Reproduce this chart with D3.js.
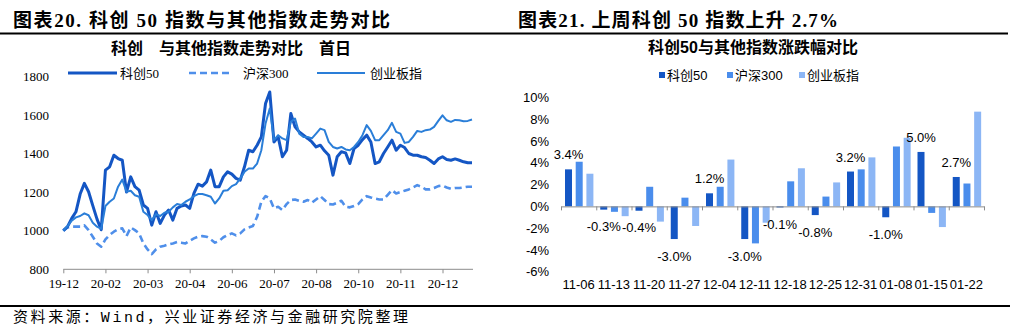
<!DOCTYPE html>
<html><head><meta charset="utf-8">
<script src="https://cdn.jsdelivr.net/npm/d3@7"></script>
<style>body{margin:0;background:#fff}svg{display:block}</style>
</head><body>
<svg id="c" width="1010" height="334"></svg>
<script>
// ---------- Left chart data ----------
const lineTickLabels = ["19-12","20-02","20-03","20-04","20-06","20-07","20-08","20-10","20-11","20-12"];
const lineYTicks = [800,1000,1200,1400,1600,1800];
const kc50 = [1000,1021,1064,1098,1190,1245,1202,1130,1060,1005,
1314,1331,1391,1374,1365,1200,1279,1228,1210,1133,
1116,1029,1098,1038,1081,1107,1055,1116,1128,1133,
1116,1193,1241,1231,1253,1314,1228,1228,1279,1305,
1293,1271,1262,1331,1417,1409,1443,1486,1659,1719,
1460,1486,1383,1417,1607,1538,1512,1495,1478,1460,
1434,1443,1414,1391,1288,1383,1409,1403,1348,1426,
1443,1472,1495,1460,1348,1357,1400,1434,1469,1417,
1443,1431,1400,1391,1391,1383,1379,1365,1348,1372,
1383,1369,1365,1372,1365,1357,1352,1352];
const hs300 = [1000,1017,1021,1021,1021,1028,1003,969,934,917,
955,978,995,1007,1012,972,1017,1003,986,934,
903,879,903,917,922,929,934,941,938,934,
948,960,969,972,969,955,938,947,966,978,
986,976,986,1007,1017,1024,1072,1150,1179,1167,
1116,1124,1107,1138,1159,1162,1155,1150,1159,1145,
1162,1179,1159,1138,1136,1145,1155,1124,1121,1128,
1138,1162,1179,1172,1166,1162,1162,1186,1210,1193,
1200,1207,1214,1224,1236,1228,1214,1214,1221,1231,
1234,1224,1217,1221,1221,1224,1228,1228];
const cyb = [1000,1024,1052,1069,1076,1090,1080,1041,1021,1010,
1128,1150,1167,1228,1265,1202,1207,1184,1176,1098,
1081,1055,1086,1076,1093,1098,1121,1138,1133,1150,
1162,1179,1190,1190,1184,1176,1141,1167,1207,1210,
1231,1241,1271,1305,1322,1322,1348,1417,1555,1633,
1469,1495,1478,1469,1564,1581,1503,1486,1486,1478,
1503,1529,1521,1460,1434,1426,1434,1421,1417,1434,
1460,1495,1547,1517,1469,1469,1495,1521,1559,1512,
1503,1455,1460,1486,1517,1512,1521,1524,1538,1569,
1598,1572,1564,1574,1572,1567,1569,1576];
const lineNames = ["科创50","沪深300","创业板指"];

// ---------- Right chart data ----------
const weeks = ["11-06","11-13","11-20","11-27","12-04","12-11","12-18","12-25","12-31","01-08","01-15","01-22"];
const barKC = [3.4,-0.3,-0.4,-3.0,1.2,-3.0,-0.1,-0.8,3.2,-1.0,5.0,2.7];
const barHS = [4.1,-0.5,1.8,0.8,1.8,-3.4,2.3,0.9,3.4,5.5,-0.6,2.1];
const barCY = [3.0,-0.9,-1.4,-1.8,4.3,-1.5,3.5,2.2,4.5,6.3,-1.9,8.7];
const pctTicks = [-6,-4,-2,0,2,4,6,8,10];
const barNames = ["科创50","沪深300","创业板指"];

const svg = d3.select("#c");
const CJK_SERIF = "'Liberation Serif','Noto Sans CJK SC',serif";
const CJK_SANS = "'Liberation Sans','Noto Sans CJK SC',sans-serif";

// headers and rules
svg.append("text").attr("x",13).attr("y",27).attr("font-family",CJK_SERIF).attr("font-weight","bold")
  .attr("font-size",19).attr("textLength",377).attr("lengthAdjust","spacing")
  .text("图表20. 科创 50 指数与其他指数走势对比");
svg.append("text").attr("x",518).attr("y",27).attr("font-family",CJK_SERIF).attr("font-weight","bold")
  .attr("font-size",19).attr("textLength",320).attr("lengthAdjust","spacing")
  .text("图表21. 上周科创 50 指数上升 2.7%");
svg.append("line").attr("x1",0).attr("x2",1008).attr("y1",33.5).attr("y2",33.5).attr("stroke","#000").attr("stroke-width",2);
svg.append("line").attr("x1",0).attr("x2",1010).attr("y1",306).attr("y2",306).attr("stroke","#000").attr("stroke-width",2);
svg.append("text").attr("x",13).attr("y",322).attr("font-family","'Liberation Mono','Noto Sans CJK SC',monospace")
  .attr("font-size",15).attr("textLength",395).attr("lengthAdjust","spacing")
  .text("资料来源：Wind，兴业证券经济与金融研究院整理");

// ---------- Left line chart ----------
const colK = "#1456c4", colH = "#4f8fea", colC = "#2a7ed8";
const xL = d3.scaleLinear().domain([0, kc50.length-1]).range([63.3, 472]);
const yL = d3.scaleLinear().domain([800,1800]).range([269.3, 76.3]);

svg.append("text").attr("x",231).attr("y",54).attr("text-anchor","middle").attr("font-family",CJK_SANS)
  .attr("font-weight","bold").attr("font-size",16).text("科创　与其他指数走势对比　首日");

const gxL = svg.append("g").attr("transform","translate(0,269.3)")
  .call(d3.axisBottom(xL).tickValues(d3.range(0, lineTickLabels.length*10, 10))
    .tickFormat((d,i)=>lineTickLabels[i]).tickSize(4).tickSizeOuter(0).tickPadding(5));
gxL.select(".domain").attr("stroke","#8c8c8c").attr("d","M63.3,0H473");
gxL.selectAll(".tick line").attr("stroke","#8c8c8c");
gxL.selectAll("text").attr("font-family","'Liberation Serif',serif").attr("font-size",13).attr("fill","#000");

const gyL = svg.append("g").attr("transform","translate(52,0)")
  .call(d3.axisLeft(yL).tickValues(lineYTicks).tickFormat(d3.format("d")).tickSize(0).tickPadding(3));
gyL.select(".domain").remove();
gyL.selectAll("text").attr("font-family","'Liberation Serif',serif").attr("font-size",13).attr("fill","#000");

const lineGen = d3.line().x((d,i)=>xL(i)).y(d=>yL(d)).curve(d3.curveLinear);
svg.append("path").datum(hs300).attr("d",lineGen).attr("fill","none").attr("stroke",colH)
  .attr("stroke-width",2.6).attr("stroke-dasharray","7,4").attr("stroke-linejoin","round");
svg.append("path").datum(kc50).attr("d",lineGen).attr("fill","none").attr("stroke",colK)
  .attr("stroke-width",3).attr("stroke-linejoin","round");
svg.append("path").datum(cyb).attr("d",lineGen).attr("fill","none").attr("stroke",colC)
  .attr("stroke-width",2).attr("stroke-linejoin","round");

// legend
const legL = [{x1:68,x2:117,tx:120,c:colK,w:3,dash:null},
              {x1:189,x2:233,tx:243,c:colH,w:2.6,dash:"7,4"},
              {x1:317,x2:365,tx:370,c:colC,w:2,dash:null}];
legL.forEach((l,i)=>{
  svg.append("line").attr("x1",l.x1).attr("x2",l.x2).attr("y1",73).attr("y2",73)
    .attr("stroke",l.c).attr("stroke-width",l.w).attr("stroke-dasharray",l.dash);
  svg.append("text").attr("x",l.tx).attr("y",78).attr("font-family",CJK_SERIF).attr("font-size",13)
    .text(lineNames[i]);
});

// ---------- Right bar chart ----------
const barCols = ["#1456c4","#4a8dec","#8cb6f5"];
const x0 = d3.scaleBand().domain(weeks).range([561,984]).padding(0);
const x1 = d3.scaleBand().domain([0,1,2]).range([4,32.4]).paddingInner(0.346).paddingOuter(0);
const yB = d3.scaleLinear().domain([-6,10]).range([271.7, 97.5]);

svg.append("text").attr("x",753).attr("y",53).attr("text-anchor","middle").attr("font-family",CJK_SANS)
  .attr("font-weight","bold").attr("font-size",16).text("科创50与其他指数涨跌幅对比");

const legX = [659,727,799];
barNames.forEach((n,i)=>{
  svg.append("rect").attr("x",legX[i]).attr("y",72).attr("width",6).attr("height",6).attr("fill",barCols[i]);
  svg.append("text").attr("x",legX[i]+8).attr("y",80).attr("font-family",CJK_SANS).attr("font-size",13).text(n);
});

const gyB = svg.append("g").attr("transform","translate(552,0)")
  .call(d3.axisLeft(yB).tickValues(pctTicks).tickFormat(d=>d+"%").tickSize(0).tickPadding(3));
gyB.select(".domain").remove();
gyB.selectAll("text").attr("font-family","'Liberation Sans',sans-serif").attr("font-size",13).attr("fill","#000");

const series = [barKC, barHS, barCY];
weeks.forEach((w,wi)=>{
  series.forEach((s,si)=>{
    const v = s[wi];
    svg.append("rect").attr("x",x0(w)+x1(si)).attr("width",x1.bandwidth())
      .attr("y",yB(Math.max(0,v))).attr("height",Math.abs(yB(v)-yB(0))).attr("fill",barCols[si]);
  });
  const v = barKC[wi];
  svg.append("text").attr("x",x0(w)+x1(0)+x1.bandwidth()/2)
    .attr("y", v>=0 ? yB(v)-10 : yB(v)+21.5).attr("text-anchor","middle")
    .attr("font-family","'Liberation Sans',sans-serif").attr("font-size",13).text(v.toFixed(1)+"%");
});

// zero axis with category boundary ticks
const xb = d3.scaleLinear().domain([0,weeks.length]).range([561,984]);
const gz = svg.append("g").attr("transform",`translate(0,${yB(0)})`)
  .call(d3.axisBottom(xb).tickValues(d3.range(weeks.length+1)).tickFormat("").tickSize(4).tickSizeOuter(0));
gz.select(".domain").attr("stroke","#8c8c8c");
gz.selectAll(".tick line").attr("stroke","#8c8c8c");

const gxB = svg.append("g").attr("transform","translate(0,277)")
  .call(d3.axisBottom(x0).tickSize(0).tickPadding(3));
gxB.select(".domain").remove();
gxB.selectAll("text").attr("font-family","'Liberation Sans',sans-serif").attr("font-size",13).attr("fill","#000");
</script>
</body></html>
